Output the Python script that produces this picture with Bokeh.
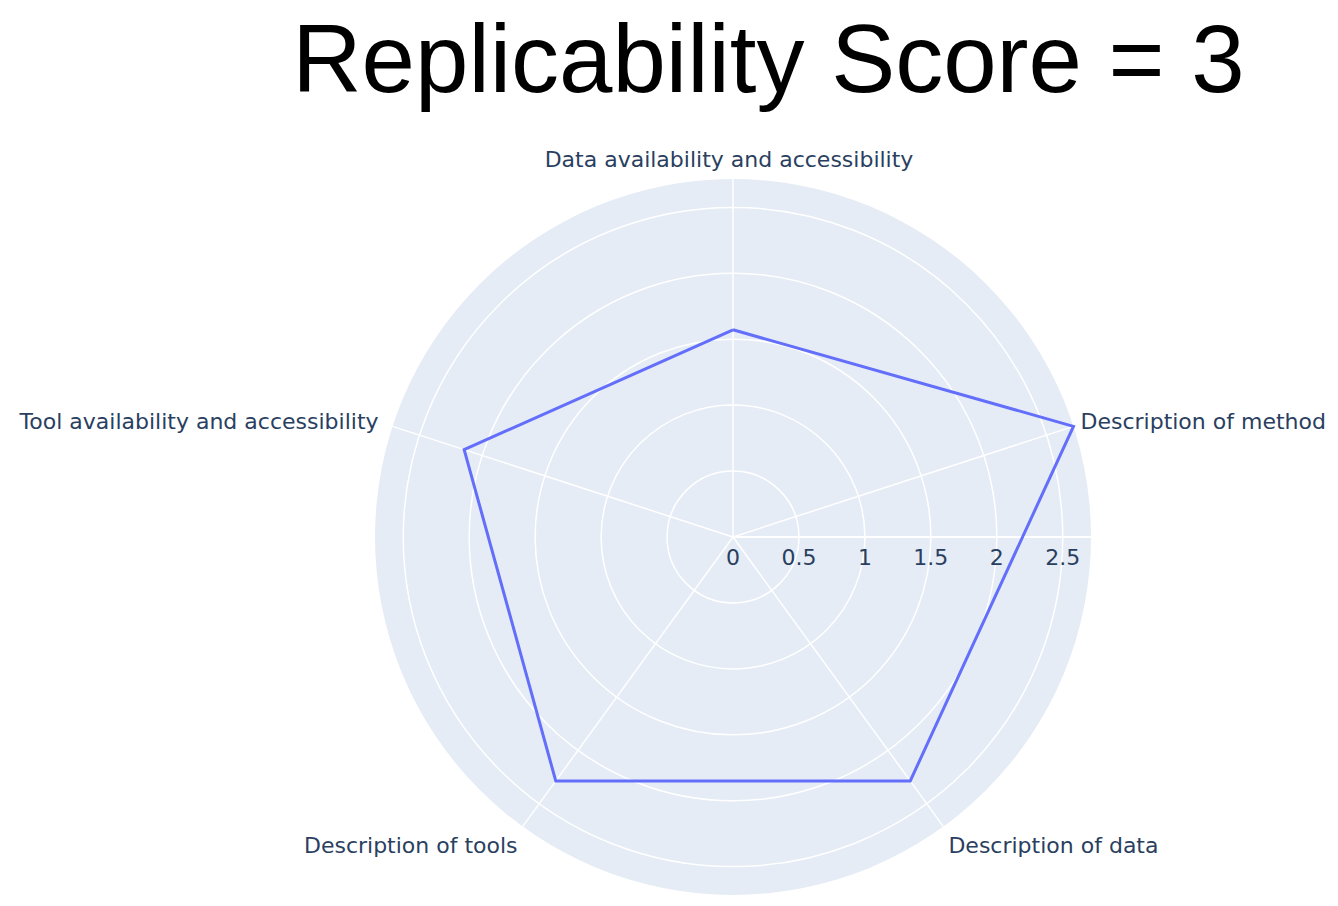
import numpy as np
from bokeh.plotting import figure
from bokeh.models import Range1d, Label
from bokeh.core.properties import value
from bokeh.embed import file_html
from bokeh.resources import INLINE

# ---- data ----
categories = [
    "Data availability and accessibility",
    "Description of method",
    "Description of data",
    "Description of tools",
    "Tool availability and accessibility",
]
scores = [1.571, 2.714, 2.286, 2.286, 2.143]
radial_ticks = [0.5, 1.0, 1.5, 2.0, 2.5]
radial_tick_labels = ["0", "0.5", "1", "1.5", "2", "2.5"]
radial_tick_values = [0, 0.5, 1, 1.5, 2, 2.5]
title_text = "Replicability Score = 3"

# ---- layout / style ----
W, H = 1338, 906
cx, cy = 732.5, 536.5          # centre of polar area (pixels from top-left)
R_px = 358.0                   # outer radius in pixels
rmax = max(scores)
s = R_px / rmax                # pixels per radial unit

FONT = "DejaVu Sans"
LABEL_COLOR = "#2a3f5f"
BG = "#E5ECF6"
LINE = "#636efa"

p = figure(width=W, height=H, output_backend="svg", toolbar_location=None,
           min_border=0, outline_line_color=None,
           x_range=Range1d(-cx / s, (W - cx) / s),
           y_range=Range1d(-(H - cy) / s, cy / s))
p.axis.visible = False
p.grid.visible = False
p.background_fill_color = "white"
p.border_fill_color = "white"

# background disk
p.circle(x=[0], y=[0], radius=[rmax], fill_color=BG, line_color=None)

# grid circles
p.circle(x=[0] * len(radial_ticks), y=[0] * len(radial_ticks), radius=radial_ticks,
         fill_color=None, line_color="white", line_width=1.5)

# angular directions: start at top, clockwise
n = len(categories)
theta = np.pi / 2 - np.arange(n) * 2 * np.pi / n
ux, uy = np.cos(theta), np.sin(theta)

# spokes
p.segment(x0=[0] * n, y0=[0] * n, x1=list(rmax * ux), y1=list(rmax * uy),
          line_color="white", line_width=1.5)
# radial axis line (east)
p.segment(x0=[0], y0=[0], x1=[rmax], y1=[0], line_color="white", line_width=2)

# radial tick labels
p.text(x=radial_tick_values, y=[0] * len(radial_tick_values), text=radial_tick_labels,
       text_font=value(FONT), text_font_size="22px", text_color=LABEL_COLOR,
       text_align="center", text_baseline="middle", y_offset=20)

# data polygon
sc = np.array(scores)
xs = list(sc * ux) + [sc[0] * ux[0]]
ys = list(sc * uy) + [sc[0] * uy[0]]
p.line(x=xs, y=ys, line_color=LINE, line_width=3, line_join="miter")

# angular labels
aligns = ["center", "left", "left", "right", "right"]
xoffs = [-4, 7, 5, -5, -14]
yoffs = [-20, -5, 19, 19, -5]
for i, cat in enumerate(categories):
    p.text(x=[rmax * ux[i]], y=[rmax * uy[i]], text=[cat],
           text_font=value(FONT), text_font_size="22px", text_color=LABEL_COLOR,
           text_align=aligns[i], text_baseline="middle",
           x_offset=xoffs[i], y_offset=yoffs[i])

# title
p.add_layout(Label(x=768, y=H - 4, x_units="screen", y_units="screen",
                   text=title_text, text_font="Liberation Sans",
                   text_font_size="96px", text_color="black",
                   text_align="center", text_baseline="top"))

open("out.html", "w").write(file_html(p, INLINE))
